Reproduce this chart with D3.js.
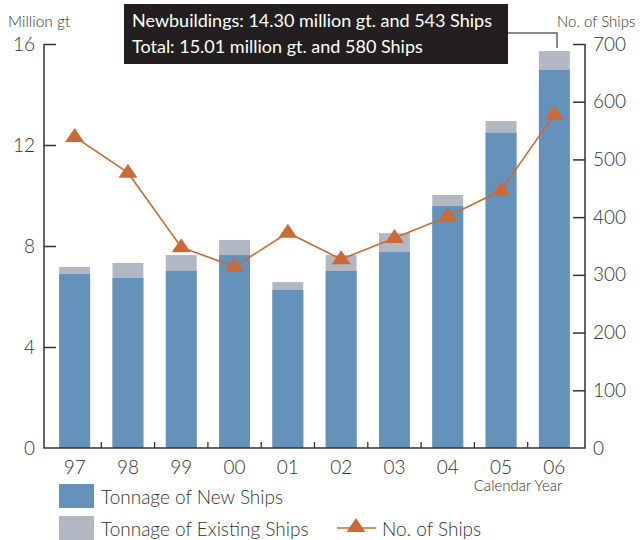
<!DOCTYPE html>
<html>
<head>
<meta charset="utf-8">
<script src="https://cdn.jsdelivr.net/npm/d3@7"></script>
<style>
  body { margin: 0; background: #fff; }
  text { font-family: Lato, "Open Sans", sans-serif; font-weight: 300; fill: #333; }
</style>
</head>
<body>
<svg id="chart" width="640" height="540"></svg>
<script>
// data
const years = ["97", "98", "99", "00", "01", "02", "03", "04", "05", "06"];
const newTonnage = [6.89, 6.73, 7.01, 7.64, 6.26, 7.01, 7.76, 9.58, 12.48, 14.97];
const totalTonnage = [7.17, 7.33, 7.64, 8.24, 6.57, 7.64, 8.51, 10.02, 12.95, 15.72];
const ships = [539, 477, 348, 314, 373, 327, 364, 401, 446, 578];
const leftTicks = [0, 4, 8, 12, 16];
const rightTicks = [0, 100, 200, 300, 400, 500, 600, 700];

const svg = d3.select("#chart");
const blue = "#6492bb", grey = "#b1b8c3", orange = "#cb6a35", ink = "#333";

const xLeft = 44, xRight = 585, yBase = 448, yTop = 44;

const x = d3.scaleBand().domain(years).range([48, 581])
  .paddingInner(0.42).paddingOuter(0.21);
const yL = d3.scaleLinear().domain([0, 16]).range([yBase, yTop]);
const yR = d3.scaleLinear().domain([0, 700]).range([yBase, yTop]);

// bars: existing (grey, full total) then new on top
svg.append("g").selectAll("rect")
  .data(years)
  .join("rect")
    .attr("x", d => x(d))
    .attr("width", x.bandwidth())
    .attr("y", (d, i) => yL(totalTonnage[i]))
    .attr("height", (d, i) => yBase - yL(totalTonnage[i]))
    .attr("fill", grey);

svg.append("g").selectAll("rect")
  .data(years)
  .join("rect")
    .attr("x", d => x(d))
    .attr("width", x.bandwidth())
    .attr("y", (d, i) => yL(newTonnage[i]))
    .attr("height", (d, i) => yBase - yL(newTonnage[i]))
    .attr("fill", blue);

// axes
const gL = svg.append("g").attr("transform", `translate(${xLeft},0)`)
  .call(d3.axisRight(yL).tickValues(leftTicks).tickSize(12).tickFormat(d3.format("d")));
gL.selectAll("text").attr("x", -9).attr("text-anchor", "end");

const gR = svg.append("g").attr("transform", `translate(${xRight},0)`)
  .call(d3.axisLeft(yR).tickValues(rightTicks).tickSize(12).tickFormat(d3.format("d")));
gR.selectAll("text").attr("x", 8).attr("text-anchor", "start");

[gL, gR].forEach(g => {
  g.select(".domain").remove();
  g.selectAll("line").attr("stroke", ink).attr("stroke-width", 1.5);
  g.selectAll("text").style("font-size", "19px").attr("fill", ink);
});
svg.selectAll(".tick").filter(d => d === 0).select("line").remove();

// axis lines
svg.append("path")
  .attr("d", `M${xLeft},${yTop}V${yBase}H${xRight}V${yTop}`)
  .attr("fill", "none").attr("stroke", ink).attr("stroke-width", 1.5);

// category separators on the baseline
const step = x.step();
svg.append("g").selectAll("line")
  .data(years.slice(1))
  .join("line")
    .attr("x1", d => x(d) - x.paddingInner() * step / 2)
    .attr("x2", d => x(d) - x.paddingInner() * step / 2)
    .attr("y1", yBase).attr("y2", yBase - 6)
    .attr("stroke", ink).attr("stroke-width", 1.3);

// year labels
svg.append("g").selectAll("text")
  .data(years)
  .join("text")
    .attr("x", d => x(d) + x.bandwidth() / 2)
    .attr("y", 474)
    .attr("text-anchor", "middle")
    .style("font-size", "19px")
    .text(d => d);

svg.append("text").attr("x", 518).attr("y", 491).attr("text-anchor", "middle")
  .style("font-size", "15px").text("Calendar Year");
svg.append("text").attr("x", 8).attr("y", 27).style("font-size", "15.5px").text("Million gt");
svg.append("text").attr("x", 557).attr("y", 27).style("font-size", "15px").text("No. of Ships");

// ships line
const cx = d => x(d) + x.bandwidth() / 2;
const line = d3.line().x((d, i) => cx(years[i])).y(d => yR(d));
svg.append("path").datum(ships)
  .attr("d", line)
  .attr("fill", "none").attr("stroke", orange).attr("stroke-width", 1.6);

const tri = "M0,-9L9.5,5L-9.5,5Z";
svg.append("g").selectAll("path")
  .data(ships)
  .join("path")
    .attr("transform", (d, i) => `translate(${cx(years[i])},${yR(d)})`)
    .attr("d", tri)
    .attr("fill", orange);

// callout box
svg.append("path")
  .attr("d", `M505,33H557V48`)
  .attr("fill", "none").attr("stroke", "#666").attr("stroke-width", 1.5);
svg.append("rect").attr("x", 124).attr("y", 4).attr("width", 384).attr("height", 60)
  .attr("fill", "#231f20");
svg.append("text").attr("x", 132).attr("y", 27).style("font-size", "18px")
  .style("font-weight", 400).style("fill", "#fff")
  .text("Newbuildings: 14.30 million gt. and 543 Ships");
svg.append("text").attr("x", 132).attr("y", 53).style("font-size", "18px")
  .style("font-weight", 400).style("fill", "#fff")
  .text("Total: 15.01 million gt. and 580 Ships");

// legend
const leg = svg.append("g");
leg.append("rect").attr("x", 59).attr("y", 484).attr("width", 35).attr("height", 24).attr("fill", blue);
leg.append("text").attr("x", 101).attr("y", 504).style("font-size", "19px").text("Tonnage of New Ships");
leg.append("rect").attr("x", 59).attr("y", 516).attr("width", 35).attr("height", 24).attr("fill", grey);
leg.append("text").attr("x", 101).attr("y", 536).style("font-size", "19px").text("Tonnage of Existing Ships");
leg.append("line").attr("x1", 337).attr("x2", 376).attr("y1", 528).attr("y2", 528)
  .attr("stroke", orange).attr("stroke-width", 1.6);
leg.append("path").attr("transform", "translate(356,527)").attr("d", tri).attr("fill", orange);
leg.append("text").attr("x", 382).attr("y", 536).style("font-size", "19px").text("No. of Ships");
</script>
</body>
</html>
